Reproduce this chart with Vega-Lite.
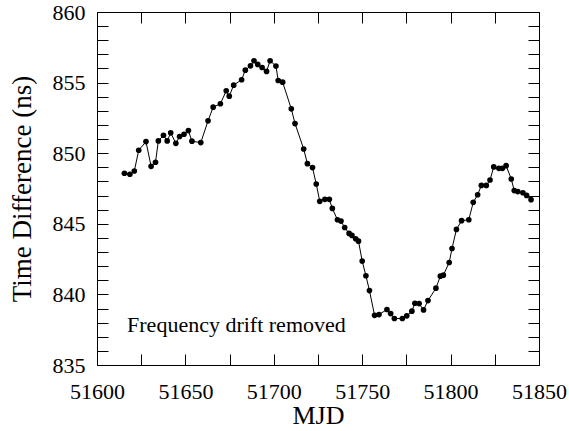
{
  "$schema": "https://vega.github.io/schema/vega-lite/v6.json",
  "width": 442,
  "height": 353,
  "autosize": "none",
  "padding": {"left": 97, "top": 12, "right": 31, "bottom": 66},
  "background": "white",
  "config": {
    "view": {"stroke": "black", "strokeWidth": 1},
    "font": "Liberation Serif",
    "axis": {"grid": false, "domain": false, "ticks": true, "tickColor": "black", "tickWidth": 1, "tickOpacity": 1, "labelOverlap": false, "labelFlush": false}
  },
  "datasets": {
    "series": [
      {"mjd": 51615.5, "td": 848.58}, {"mjd": 51618.6, "td": 848.51}, {"mjd": 51621.1, "td": 848.74},
      {"mjd": 51623.6, "td": 850.21}, {"mjd": 51627.7, "td": 850.82}, {"mjd": 51630.6, "td": 849.07},
      {"mjd": 51633.1, "td": 849.36}, {"mjd": 51634.7, "td": 850.87}, {"mjd": 51637.6, "td": 851.27},
      {"mjd": 51639.7, "td": 850.87}, {"mjd": 51641.7, "td": 851.44}, {"mjd": 51644.6, "td": 850.70},
      {"mjd": 51646.7, "td": 851.18}, {"mjd": 51649.2, "td": 851.34}, {"mjd": 51651.7, "td": 851.60},
      {"mjd": 51653.7, "td": 850.85}, {"mjd": 51658.7, "td": 850.75}, {"mjd": 51662.8, "td": 852.29},
      {"mjd": 51665.7, "td": 853.26}, {"mjd": 51669.8, "td": 853.50}, {"mjd": 51673.1, "td": 854.42},
      {"mjd": 51674.8, "td": 854.04}, {"mjd": 51677.3, "td": 854.82}, {"mjd": 51681.8, "td": 855.20},
      {"mjd": 51683.9, "td": 855.88}, {"mjd": 51686.8, "td": 856.19}, {"mjd": 51688.8, "td": 856.55},
      {"mjd": 51690.9, "td": 856.29}, {"mjd": 51693.4, "td": 856.07}, {"mjd": 51695.9, "td": 855.79},
      {"mjd": 51697.9, "td": 856.55}, {"mjd": 51701.2, "td": 856.17}, {"mjd": 51702.5, "td": 855.15},
      {"mjd": 51705.0, "td": 855.03}, {"mjd": 51709.9, "td": 853.14}, {"mjd": 51712.0, "td": 852.10},
      {"mjd": 51716.9, "td": 850.30}, {"mjd": 51719.0, "td": 849.26}, {"mjd": 51721.9, "td": 848.98},
      {"mjd": 51724.0, "td": 847.82}, {"mjd": 51726.0, "td": 846.59}, {"mjd": 51728.9, "td": 846.73},
      {"mjd": 51731.4, "td": 846.73}, {"mjd": 51733.1, "td": 846.09}, {"mjd": 51736.0, "td": 845.29},
      {"mjd": 51738.0, "td": 845.19}, {"mjd": 51740.1, "td": 844.74}, {"mjd": 51742.6, "td": 844.32},
      {"mjd": 51744.2, "td": 844.18}, {"mjd": 51746.3, "td": 843.94}, {"mjd": 51747.9, "td": 843.77},
      {"mjd": 51750.0, "td": 842.36}, {"mjd": 51752.1, "td": 841.32}, {"mjd": 51754.1, "td": 840.27},
      {"mjd": 51757.0, "td": 838.52}, {"mjd": 51759.5, "td": 838.57}, {"mjd": 51764.0, "td": 838.93},
      {"mjd": 51766.1, "td": 838.64}, {"mjd": 51768.2, "td": 838.29}, {"mjd": 51772.7, "td": 838.29},
      {"mjd": 51775.2, "td": 838.48}, {"mjd": 51778.1, "td": 838.81}, {"mjd": 51779.8, "td": 839.37},
      {"mjd": 51782.2, "td": 839.35}, {"mjd": 51784.7, "td": 838.90}, {"mjd": 51787.2, "td": 839.56},
      {"mjd": 51791.7, "td": 840.44}, {"mjd": 51794.2, "td": 841.29}, {"mjd": 51795.9, "td": 841.36},
      {"mjd": 51799.2, "td": 842.26}, {"mjd": 51800.8, "td": 843.25}, {"mjd": 51803.3, "td": 844.60},
      {"mjd": 51806.2, "td": 845.22}, {"mjd": 51810.3, "td": 845.29}, {"mjd": 51812.8, "td": 846.52},
      {"mjd": 51815.3, "td": 847.06}, {"mjd": 51817.4, "td": 847.72}, {"mjd": 51820.2, "td": 847.72},
      {"mjd": 51822.3, "td": 848.10}, {"mjd": 51824.4, "td": 849.03}, {"mjd": 51827.3, "td": 848.93},
      {"mjd": 51829.3, "td": 848.93}, {"mjd": 51831.4, "td": 849.12}, {"mjd": 51834.3, "td": 848.17},
      {"mjd": 51836.0, "td": 847.35}, {"mjd": 51838.0, "td": 847.28}, {"mjd": 51840.9, "td": 847.20},
      {"mjd": 51843.0, "td": 847.01}, {"mjd": 51845.5, "td": 846.71}
    ],
    "note": [{"label": "Frequency drift removed", "mjd": 51617, "td": 837.34}]
  },
  "data": {"name": "series"},
  "resolve": {"axis": {"x": "independent", "y": "independent"}},
  "layer": [
    {
      "mark": {"type": "line", "color": "black", "strokeWidth": 1},
      "encoding": {
        "x": {"field": "mjd", "type": "quantitative",
          "scale": {"domain": [51600, 51850], "nice": false, "zero": false},
          "axis": {"orient": "bottom", "title": "MJD",
            "values": [51600, 51625, 51650, 51675, 51700, 51725, 51750, 51775, 51800, 51825, 51850],
            "labelExpr": "datum.value % 50 == 0 ? format(datum.value, 'd') : ''",
            "tickSize": -11,
            "labelFont": "Liberation Serif", "labelFontSize": 22, "labelColor": "black", "labelPadding": 27,
            "titleFont": "Liberation Serif", "titleFontSize": 26, "titleFontWeight": "normal", "titleColor": "black", "titlePadding": 0}
        },
        "y": {"field": "td", "type": "quantitative",
          "scale": {"domain": [835, 860], "nice": false, "zero": false},
          "axis": {"orient": "left", "title": "Time Difference (ns)",
            "values": [835,836,837,838,839,840,841,842,843,844,845,846,847,848,849,850,851,852,853,854,855,856,857,858,859,860],
            "labelExpr": "datum.value % 5 == 0 ? format(datum.value, 'd') : ''",
            "tickSize": -11,
            "labelFont": "Liberation Serif", "labelFontSize": 22, "labelColor": "black", "labelPadding": 23,
            "titleFont": "Liberation Serif", "titleFontSize": 27, "titleFontWeight": "normal", "titleColor": "black", "titlePadding": 16}
        }
      }
    },
    {
      "mark": {"type": "circle", "color": "black", "opacity": 1, "size": 32},
      "encoding": {
        "x": {"field": "mjd", "type": "quantitative",
          "scale": {"domain": [51600, 51850], "nice": false, "zero": false},
          "axis": {"orient": "top", "title": null, "labels": false,
            "values": [51600, 51625, 51650, 51675, 51700, 51725, 51750, 51775, 51800, 51825, 51850],
            "tickSize": -11}
        },
        "y": {"field": "td", "type": "quantitative",
          "scale": {"domain": [835, 860], "nice": false, "zero": false},
          "axis": {"orient": "right", "title": null, "labels": false,
            "values": [835,836,837,838,839,840,841,842,843,844,845,846,847,848,849,850,851,852,853,854,855,856,857,858,859,860],
            "tickSize": -11}
        }
      }
    },
    {
      "data": {"name": "note"},
      "mark": {"type": "text", "align": "left", "baseline": "alphabetic", "font": "Liberation Serif", "fontSize": 22, "color": "black"},
      "encoding": {
        "x": {"field": "mjd", "type": "quantitative", "scale": {"domain": [51600, 51850], "nice": false, "zero": false}, "axis": null},
        "y": {"field": "td", "type": "quantitative", "scale": {"domain": [835, 860], "nice": false, "zero": false}, "axis": null},
        "text": {"field": "label"}
      }
    }
  ]
}
